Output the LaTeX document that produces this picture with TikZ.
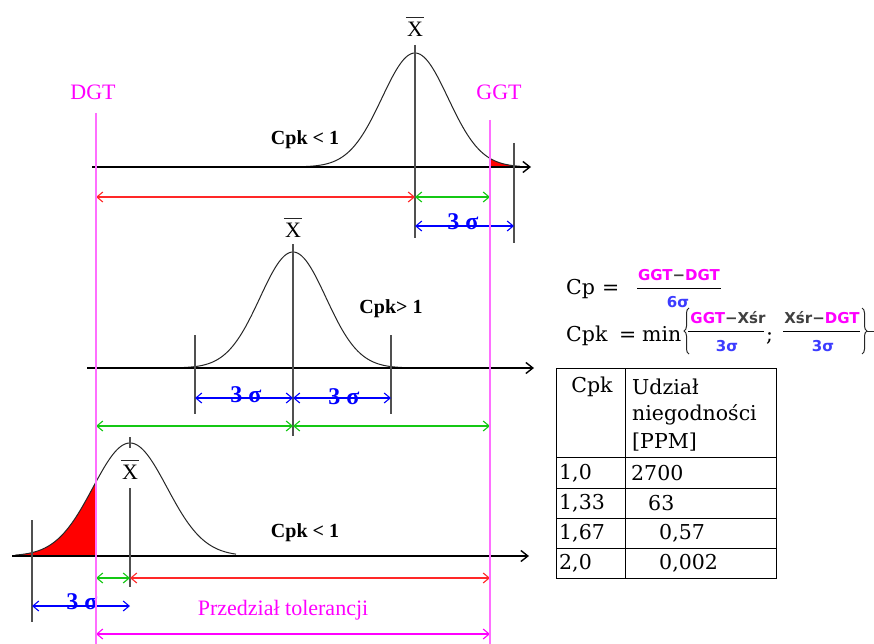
\documentclass[tikz,border=0pt]{standalone}
\usepackage{fontspec}
\setmainfont{Liberation Serif}
\newfontfamily\tabfont{DejaVu Serif}
\newfontfamily\frmsans{DejaVu Sans}
\usetikzlibrary{arrows.meta,decorations.pathreplacing}
\definecolor{pinkline}{RGB}{255,110,255}
\definecolor{mag}{RGB}{255,0,255}
\definecolor{gr}{RGB}{20,200,20}
\definecolor{rd}{RGB}{255,40,40}
\definecolor{bl}{RGB}{0,0,255}
\definecolor{fbl}{RGB}{60,60,255}
\definecolor{vline}{RGB}{80,80,80}
\tikzset{
 axisline/.style={black, line width=1.2pt, -{Straight Barb[length=7pt,width=11pt,line width=1.4pt]}},
 vl/.style={vline, line width=1.3pt},
 tol/.style={pinkline, line width=1.4pt},
 dim/.style={line width=1.1pt, {Straight Barb[length=6pt,width=10pt]}-{Straight Barb[length=6pt,width=10pt]}},
 gauss/.style={black!85, line width=1pt},
 lbl/.style={font=\fontsize{22}{22}\selectfont, inner sep=0},
 cpklbl/.style={font=\bfseries\fontsize{20}{20}\selectfont, inner sep=0},
 sig/.style={bl, font=\bfseries\fontsize{24}{24}\selectfont, inner sep=0},
 xbar/.style={font=\fontsize{22}{22}\selectfont, inner sep=0},
 barline/.style={black!85, line width=1.1pt},
 tabtxt/.style={font=\tabfont\fontsize{20.5}{20.5}\selectfont, inner sep=0, anchor=west},
 frm/.style={font=\tabfont\fontsize{20.5}{20.5}\selectfont, inner sep=0, anchor=base west},
 num/.style={font=\frmsans\bfseries\fontsize{15}{15}\selectfont, inner sep=0},
 den/.style={fbl, font=\frmsans\bfseries\fontsize{15}{15}\selectfont, inner sep=0},
 fbar/.style={black, line width=1pt},
 curly/.style={black!85, line width=1pt, decorate, decoration={brace, amplitude=5pt}},
}
\begin{document}
\begin{tikzpicture}[x=1pt,y=-1pt]
\useasboundingbox (0,0) rectangle (874,644);
\fill[white] (0,0) rectangle (874,644);

% ---------- coordinates ----------
\coordinate (dgtT) at (96,113);  \coordinate (dgtB) at (96,644);
\coordinate (ggtT) at (490,120); \coordinate (ggtB) at (490,644);

% ---------- top distribution ----------
\fill[red] (490,167) -- plot[domain=490:514,samples=20] (\x,{167-114*exp(-((\x-415)/33)^2/2)}) -- (514,167) -- cycle;
\draw[gauss] plot[domain=300:520,samples=120] (\x,{167-114*exp(-((\x-415)/33)^2/2)});
\coordinate (a1s) at (92,167); \coordinate (a1e) at (531,167);
\draw[axisline] (a1s) -- (a1e);
\coordinate (m1t) at (415,45); \coordinate (m1b) at (415,238);
\draw[vl] (m1t) -- (m1b);
\coordinate (s1t) at (514,143); \coordinate (s1b) at (514,243);
\draw[vl] (s1t) -- (s1b);
\node[xbar] (xb1) at (415,29) {X};
\draw[barline] ([xshift=-1pt,yshift=4pt]xb1.north west) -- ([xshift=1pt,yshift=4pt]xb1.north east);
\node[cpklbl] (c1) at (305,140) {Cpk < 1};
\coordinate (r1a) at (96,197); \coordinate (r1b) at (415,197); \coordinate (g1b) at (490,197);
\draw[dim,rd] (r1a) -- (r1b);
\draw[dim,gr] (r1b) -- (g1b);
\coordinate (b1a) at (415,226); \coordinate (b1b) at (514,226);
\draw[dim,bl] (b1a) -- (b1b);
\node[sig] (sg1) at (463,222) {3 σ};

% ---------- middle distribution ----------
\draw[gauss] plot[domain=180:410,samples=120] (\x,{368-116*exp(-((\x-293)/33)^2/2)});
\coordinate (a2s) at (87,368); \coordinate (a2e) at (534,368);
\draw[axisline] (a2s) -- (a2e);
\coordinate (m2t) at (293,244); \coordinate (m2b) at (293,436);
\draw[vl] (m2t) -- (m2b);
\coordinate (s2lt) at (195,335); \coordinate (s2lb) at (195,414);
\coordinate (s2rt) at (391,335); \coordinate (s2rb) at (391,414);
\draw[vl] (s2lt) -- (s2lb);
\draw[vl] (s2rt) -- (s2rb);
\node[xbar] (xb2) at (293,230) {X};
\draw[barline] ([xshift=-1pt,yshift=4pt]xb2.north west) -- ([xshift=1pt,yshift=4pt]xb2.north east);
\node[cpklbl] (c2) at (391,309) {Cpk> 1};
\coordinate (b2a) at (195,398); \coordinate (b2m) at (293,398); \coordinate (b2b) at (391,398);
\draw[dim,bl] (b2a) -- (b2m);
\draw[dim,bl] (b2m) -- (b2b);
\node[sig] (sg2) at (246,395) {3 σ};
\node[sig] (sg3) at (344,397) {3 σ};
\coordinate (g2a) at (96,426); \coordinate (g2m) at (293,426); \coordinate (g2b) at (490,426);
\draw[dim,gr] (g2a) -- (g2m);
\draw[dim,gr] (g2m) -- (g2b);

% ---------- bottom distribution ----------
\fill[red] (15,556) -- plot[domain=15:96,samples=60] (\x,{556-113*exp(-((\x-130)/37)^2/2)}) -- (96,556) -- cycle;
\draw[gauss] plot[domain=15:236,samples=150] (\x,{556-113*exp(-((\x-130)/37)^2/2)});
\coordinate (a3s) at (12,556); \coordinate (a3e) at (529,556);
\draw[axisline] (a3s) -- (a3e);
\coordinate (m3t) at (130,437); \coordinate (m3u) at (130,448);
\coordinate (m3m) at (130,488); \coordinate (m3b) at (130,587);
\draw[vl] (m3t) -- (m3u);
\draw[vl] (m3m) -- (m3b);
\node[xbar] (xb3) at (130,472) {X};
\draw[barline] ([xshift=-1pt,yshift=4pt]xb3.north west) -- ([xshift=1pt,yshift=4pt]xb3.north east);
\coordinate (s3t) at (32,520); \coordinate (s3b) at (32,622);
\draw[vl] (s3t) -- (s3b);
\node[cpklbl] (c3) at (305,533) {Cpk < 1};
\coordinate (g3a) at (96,578); \coordinate (g3b) at (130,578); \coordinate (r3b) at (490,578);
\draw[dim,gr] (g3a) -- (g3b);
\draw[dim,rd] (g3b) -- (r3b);
\coordinate (b3a) at (32,606); \coordinate (b3b) at (130,606);
\draw[dim,bl] (b3a) -- (b3b);
\node[sig] (sg4) at (82,602) {3 σ};
\coordinate (p3a) at (96,634); \coordinate (p3b) at (490,634);
\draw[dim,mag] (p3a) -- (p3b);
\node[lbl,mag] (prz) at (283,610) {Przedział tolerancji};

% ---------- tolerance limits ----------
\draw[tol] (dgtT) -- (dgtB);
\draw[tol] (ggtT) -- (ggtB);
\node[lbl,mag] (dgt) at (93,92) {DGT};
\node[lbl,mag] (ggt) at (499,92) {GGT};

% ---------- formulas ----------
\node[frm] (cp) at (566,294) {Cp};
\node[frm] (cpeq) at (602,294) {=};
\coordinate (fb0a) at (637,288); \coordinate (fb0b) at (721,288);
\draw[fbar] (fb0a) -- (fb0b);
\node[num] (n0) at (679,275) {\textcolor{mag}{GGT}\textcolor{black!75}{−}\textcolor{mag}{DGT}};
\node[den] (d0) at (678,302) {6σ};

\node[frm] (cpk) at (566,341) {Cpk};
\node[frm] (cpkeq) at (619,341) {=};
\node[frm] (mn) at (642,341) {min};
\coordinate (lbB) at (689,354); \coordinate (lbT) at (689,308);
\draw[curly] (lbB) -- (lbT);
\coordinate (fb1a) at (688,331); \coordinate (fb1b) at (764,331);
\draw[fbar] (fb1a) -- (fb1b);
\node[num] (n1) at (728,318) {\textcolor{mag}{GGT}\textcolor{black!75}{−Xśr}};
\node[den] (d1) at (727,346) {3σ};
\node[frm] (semi) at (766,341) {;};
\coordinate (fb2a) at (783,331); \coordinate (fb2b) at (860,331);
\draw[fbar] (fb2a) -- (fb2b);
\node[num] (n2) at (822,318) {\textcolor{black!75}{Xśr−}\textcolor{mag}{DGT}};
\node[den] (d2) at (823,346) {3σ};
\coordinate (rbT) at (862,308); \coordinate (rbB) at (862,354);
\draw[curly] (rbT) -- (rbB);
\coordinate (rbtip) at (867,331); \coordinate (rbend) at (874,331);
\draw[black!85, line width=1pt] (rbtip) -- (rbend);

% ---------- table ----------
\coordinate (t1) at (556,368); \coordinate (t2) at (776,578);
\draw[line width=1pt] (t1) rectangle (t2);
\coordinate (tc1) at (625,368); \coordinate (tc2) at (625,578);
\draw[line width=1pt] (tc1) -- (tc2);
\foreach \yy [count=\i] in {457,488,518,548} {
  \coordinate (hl\i a) at (556,\yy); \coordinate (hl\i b) at (776,\yy);
  \draw[line width=1pt] (hl\i a) -- (hl\i b);
}
\node[tabtxt,anchor=center] (th1) at (592,387) {Cpk};
\node[tabtxt] (th2) at (632,387) {Udział};
\node[tabtxt] (th3) at (632,415) {niegodności};
\node[tabtxt] (th4) at (632,442) {[PPM]};
\node[tabtxt] (r1a) at (559,473) {1,0};
\node[tabtxt] (r1b) at (631,473) {2700};
\node[tabtxt] (r2a) at (559,503) {1,33};
\node[tabtxt] (r2b) at (648,503) {63};
\node[tabtxt] (r3a) at (559,533) {1,67};
\node[tabtxt] (r3b) at (659,533) {0,57};
\node[tabtxt] (r4a) at (559,563) {2,0};
\node[tabtxt] (r4b) at (659,563) {0,002};
\end{tikzpicture}
\end{document}
